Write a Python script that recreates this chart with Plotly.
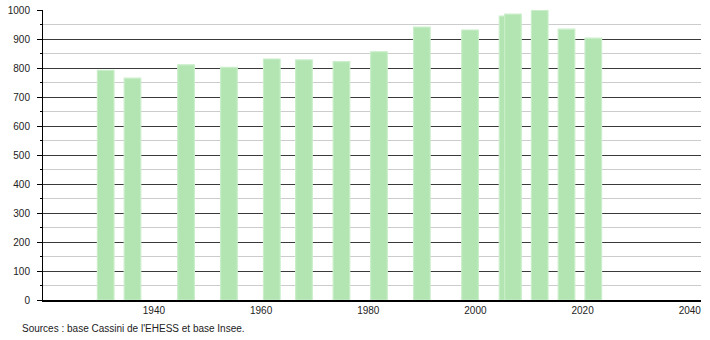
import plotly.graph_objects as go

years = [1931, 1936, 1946, 1954, 1962, 1968, 1975, 1982, 1990, 1999, 2006, 2007, 2012, 2017, 2022]
population = [792, 765, 811, 802, 831, 828, 822, 856, 941, 931, 979, 986, 999, 934, 903]
x_ticks = [1940, 1960, 1980, 2000, 2020, 2040]
y_ticks = [0, 100, 200, 300, 400, 500, 600, 700, 800, 900, 1000]
source_text = "Sources : base Cassini de l'EHESS et base Insee."

fig = go.Figure()
fig.add_trace(go.Bar(
    x=years, y=population, width=3.1,
    marker=dict(color="#b2e5b2", line=dict(color="#c9eec9", width=1.2)),
    hoverinfo="x+y",
))

font = dict(family="Liberation Sans, Arial, sans-serif", size=10, color="#222")

fig.update_layout(
    width=710, height=340,
    margin=dict(l=43, r=9, t=10, b=40, pad=0, autoexpand=False),
    paper_bgcolor="white", plot_bgcolor="white",
    showlegend=False,
    font=font,
    xaxis=dict(
        range=[1919.3, 2042.1], automargin=False,
        tickmode="array", tickvals=x_ticks, ticktext=[str(v) for v in x_ticks],
        ticks="", showgrid=False, zeroline=False,
        showline=True, linecolor="#000", linewidth=1.5,
        ticklabelstandoff=0,
    ),
    yaxis=dict(
        range=[0, 1000], automargin=False,
        tickmode="array", tickvals=y_ticks,
        ticks="outside", ticklen=5, tickcolor="#000", tickwidth=1,
        showgrid=True, gridcolor="#3a3a3a", gridwidth=1,
        zeroline=False,
        showline=True, linecolor="#000", linewidth=1,
        ticklabelstandoff=5,
        minor=dict(dtick=50, tick0=0, ticks="outside", ticklen=2, tickcolor="#000",
                   showgrid=True, gridcolor="#cccccc", gridwidth=1),
    ),
)

fig.add_annotation(
    text=source_text, xref="paper", yref="paper",
    x=(20 - 43) / 658, y=-28 / 290, xanchor="left", yanchor="middle",
    showarrow=False, font=font,
)

fig.write_html("out.html")
